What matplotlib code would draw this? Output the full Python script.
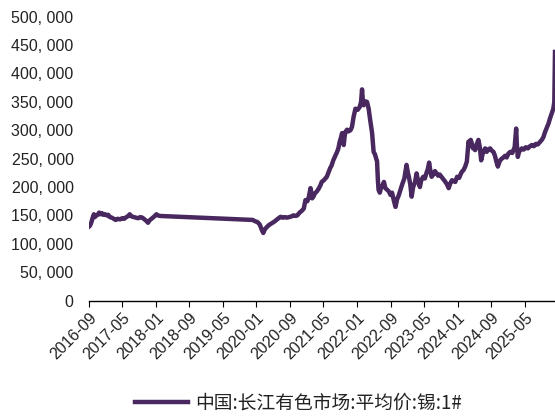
import pandas as pd
import matplotlib
matplotlib.use('Agg')
import matplotlib.pyplot as plt
from matplotlib.ticker import FuncFormatter

# tin 1# average price, Changjiang market (yuan/t)
dates = [
    '2016-09-01', '2016-09-10', '2016-09-20', '2016-09-28', '2016-10-08', '2016-10-15',
    '2016-10-25', '2016-11-05', '2016-11-15', '2016-11-25', '2016-12-05', '2016-12-15',
    '2016-12-28', '2017-01-10', '2017-01-20', '2017-02-01', '2017-02-15', '2017-03-01',
    '2017-03-15', '2017-03-30', '2017-04-15', '2017-05-01', '2017-05-15', '2017-06-01',
    '2017-06-15', '2017-06-25', '2017-07-10', '2017-07-25', '2017-08-10', '2017-08-25',
    '2017-09-10', '2017-09-25', '2017-10-10', '2017-10-25', '2017-11-05', '2017-11-15',
    '2017-11-30', '2017-12-15', '2018-01-05', '2018-01-15', '2018-02-01',
    '2019-12-05', '2019-12-20', '2020-01-10', '2020-01-25', '2020-02-10', '2020-02-20',
    '2020-03-01', '2020-03-15', '2020-04-01', '2020-04-20', '2020-05-10', '2020-05-30',
    '2020-06-15', '2020-06-25', '2020-07-10', '2020-07-25', '2020-08-10', '2020-08-25',
    '2020-09-10', '2020-09-25', '2020-10-10', '2020-10-24', '2020-11-10', '2020-11-25',
    '2020-12-10', '2020-12-22', '2021-01-05', '2021-01-15', '2021-01-28', '2021-02-09',
    '2021-02-20', '2021-03-01', '2021-03-14', '2021-03-28', '2021-04-10', '2021-04-19',
    '2021-05-05', '2021-05-15', '2021-05-26', '2021-06-08', '2021-06-19', '2021-06-30',
    '2021-07-12', '2021-07-25', '2021-08-09', '2021-08-18', '2021-08-28', '2021-09-07',
    '2021-09-14', '2021-09-20', '2021-09-26', '2021-10-02', '2021-10-08', '2021-10-20',
    '2021-10-30', '2021-11-14', '2021-11-25', '2021-12-07', '2021-12-20', '2022-01-05',
    '2022-01-20', '2022-01-30', '2022-02-06', '2022-02-12', '2022-02-18', '2022-03-01',
    '2022-03-14', '2022-03-26', '2022-04-05', '2022-04-20', '2022-05-01', '2022-05-10',
    '2022-05-20', '2022-05-26', '2022-06-01', '2022-06-06', '2022-06-15', '2022-06-25',
    '2022-07-05', '2022-07-15', '2022-07-25', '2022-08-08', '2022-08-20', '2022-09-01',
    '2022-09-12', '2022-09-25', '2022-10-07', '2022-10-18', '2022-10-30', '2022-11-12',
    '2022-11-25', '2022-12-10', '2022-12-26', '2023-01-05', '2023-01-12', '2023-01-22',
    '2023-02-01', '2023-02-12', '2023-02-25', '2023-03-09', '2023-03-20', '2023-04-02',
    '2023-04-12', '2023-04-26', '2023-05-08', '2023-05-20', '2023-05-30', '2023-06-08',
    '2023-06-16', '2023-06-26', '2023-07-08', '2023-07-20', '2023-08-01', '2023-08-12',
    '2023-08-24', '2023-09-06', '2023-09-18', '2023-10-01', '2023-10-15', '2023-10-28',
    '2023-11-08', '2023-11-21', '2023-12-05', '2023-12-15', '2023-12-28', '2024-01-12',
    '2024-01-22', '2024-02-01', '2024-02-13', '2024-02-25', '2024-03-08', '2024-03-20',
    '2024-03-28', '2024-04-05', '2024-04-13', '2024-04-22', '2024-05-01', '2024-05-07',
    '2024-05-18', '2024-05-31', '2024-06-10', '2024-06-20', '2024-06-30', '2024-07-10',
    '2024-07-19', '2024-07-30', '2024-08-10', '2024-08-24', '2024-09-05', '2024-09-17',
    '2024-09-28', '2024-10-08', '2024-10-19', '2024-10-30', '2024-11-08', '2024-11-17',
    '2024-11-28', '2024-12-10', '2024-12-22', '2025-01-04', '2025-01-18', '2025-02-01',
    '2025-02-09', '2025-02-18', '2025-03-01', '2025-03-06', '2025-03-13', '2025-03-22',
    '2025-04-01', '2025-04-11', '2025-04-25', '2025-05-10', '2025-05-25', '2025-06-10',
    '2025-06-23', '2025-07-08', '2025-07-22', '2025-08-05', '2025-08-20', '2025-09-03',
    '2025-09-15', '2025-09-27', '2025-10-10', '2025-10-22', '2025-11-02', '2025-11-15',
    '2025-11-26', '2025-12-03', '2025-12-08',
]
prices = [
    130000, 132000, 138000, 145000, 152000, 147000,
    150000, 151000, 155000, 152000, 154000, 151000,
    152000, 150000, 151000, 147000, 146000, 144000,
    142000, 144000, 143000, 145000, 144000, 147000,
    149000, 152000, 148000, 147000, 146000, 145000,
    147000, 146000, 143000, 140000, 137000, 141000,
    144000, 147000, 152000, 150000, 149000,
    142000, 140000, 138000, 134000, 124000, 119000,
    125000, 129000, 133000, 136000, 139000, 143000,
    146000, 147500, 146000, 147000, 146000, 147000,
    148000, 150000, 149000, 150000, 155000, 158000,
    162000, 177000, 175000, 182000, 198000, 180000,
    184000, 189000, 192000, 197000, 203000, 209000,
    212000, 215000, 218000, 226000, 233000, 238000,
    247000, 254000, 262000, 268000, 280000, 288000,
    295000, 285000, 274000, 288000, 297000, 301000,
    298000, 300000, 306000, 324000, 338000, 336000,
    341000, 350000, 372000, 352000, 344000, 351000,
    350000, 338000, 320000, 295000, 262000, 258000,
    250000, 245000, 212000, 195000, 190000, 200000,
    203000, 209000, 198000, 195000, 192000, 186000,
    190000, 176000, 165000, 178000, 185000, 195000,
    205000, 215000, 239000, 225000, 218000, 205000,
    183000, 200000, 208000, 224000, 210000, 200000,
    212000, 218000, 215000, 225000, 232000, 243000,
    230000, 218000, 222000, 228000, 224000, 220000,
    222000, 218000, 214000, 210000, 205000, 198000,
    206000, 212000, 210000, 209000, 218000, 216000,
    222000, 227000, 230000, 236000, 245000, 280000,
    272000, 283000, 277000, 268000, 272000, 265000,
    275000, 283000, 270000, 247000, 258000, 264000,
    268000, 262000, 266000, 268000, 264000, 262000,
    255000, 245000, 236000, 244000, 248000, 250000,
    252000, 255000, 252000, 259000, 262000, 260000,
    265000, 270000, 303000, 275000, 253000, 262000,
    265000, 268000, 266000, 270000, 268000, 272000,
    274000, 272000, 276000, 275000, 279000, 283000,
    288000, 297000, 305000, 312000, 321000, 330000,
    338000, 350000, 438000,
]
xtick_labels = ['2016-09', '2017-05', '2018-01', '2018-09', '2019-05', '2020-01', '2020-09',
                '2021-05', '2022-01', '2022-09', '2023-05', '2024-01', '2024-09', '2025-05']
series_name = '中国:长江有色市场:平均价:锡:1#'

df = pd.DataFrame({'date': pd.to_datetime(dates), 'price': prices})

plt.rcParams['font.family'] = ['Liberation Sans', 'Noto Sans CJK SC', 'DejaVu Sans']

fig = plt.figure(figsize=(5.55, 4.18), dpi=100)
ax = fig.add_axes([0.16, 0.281, 0.84, 0.679])

line, = ax.plot(df['date'], df['price'], color='#48285F', lw=3.2, solid_joinstyle='round')

ax.set_ylim(0, 500000)
ax.set_yticks(range(0, 500001, 50000))
ax.yaxis.set_major_formatter(FuncFormatter(lambda v, p: f'{int(v):,}'.replace(',', ', ')))
ax.set_xlim(df['date'].iloc[0], df['date'].iloc[-1])
ax.set_xticks(pd.to_datetime(xtick_labels))
ax.set_xticklabels(xtick_labels, rotation=45, ha='right', rotation_mode='anchor')

for s in ['top', 'right', 'left']:
    ax.spines[s].set_visible(False)
ax.spines['bottom'].set_color('black')
ax.spines['bottom'].set_linewidth(1.0)
ax.tick_params(axis='y', length=0, pad=11, labelsize=11.5, labelcolor='#222222')
ax.tick_params(axis='x', length=4, width=0.8, direction='out', pad=3, labelsize=11.5, labelcolor='#222222')

leg = fig.legend([line], [series_name], loc='center', bbox_to_anchor=(298.5 / 555, 1 - 403 / 418),
                 frameon=False, handlelength=2.85, fontsize=13.5, handletextpad=0.37)
for t in leg.get_texts():
    t.set_family(['Noto Sans CJK SC', 'DejaVu Sans'])
    t.set_color('#222222')

fig.savefig('out.png', dpi=100)
